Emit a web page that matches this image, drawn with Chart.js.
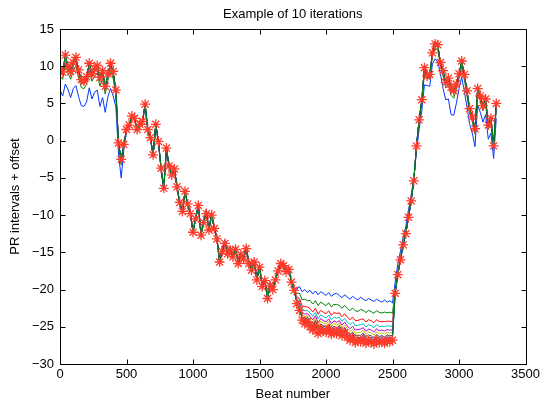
<!DOCTYPE html>
<html>
<head>
<meta charset="utf-8">
<script src="https://cdn.jsdelivr.net/npm/chart.js@4.4.1/dist/chart.umd.min.js"></script>
<style>
  html, body { margin: 0; padding: 0; background: #fff; }
</style>
</head>
<body>
<canvas id="chart" width="543" height="402"></canvas>
<script>
// beat numbers (x)
const beats = [
  0, 20, 40, 60, 80, 100, 120, 140, 160, 180,
  200, 220, 240, 260, 280, 300, 320, 340, 360, 380,
  400, 420, 440, 460, 480, 500, 520, 540, 560, 580,
  600, 620, 640, 660, 680, 700, 720, 740, 760, 780,
  800, 820, 840, 860, 880, 900, 920, 940, 960, 980,
  1000, 1020, 1040, 1060, 1080, 1100, 1120, 1140, 1160, 1180,
  1200, 1220, 1240, 1260, 1280, 1300, 1320, 1340, 1360, 1380,
  1400, 1420, 1440, 1460, 1480, 1500, 1520, 1540, 1560, 1580,
  1600, 1620, 1640, 1660, 1680, 1700, 1720, 1740, 1760, 1780,
  1800, 1820, 1840, 1860, 1880, 1900, 1920, 1940, 1960, 1980,
  2000, 2020, 2040, 2060, 2080, 2100, 2120, 2140, 2160, 2180,
  2200, 2220, 2240, 2260, 2280, 2300, 2320, 2340, 2360, 2380,
  2400, 2420, 2440, 2460, 2480, 2500, 2520, 2540, 2560, 2580,
  2600, 2620, 2640, 2660, 2680, 2700, 2720, 2740, 2760, 2780,
  2800, 2820, 2840, 2860, 2880, 2900, 2920, 2940, 2960, 2980,
  3000, 3020, 3040, 3060, 3080, 3100, 3120, 3140, 3160, 3180,
  3200, 3220, 3240, 3260, 3280
];

// final PR intervals + offset (red stars)
const finalPR = [
  9.5, 9.2, 11.5, 10.0, 9.3, 10.5, 11.2, 9.5, 8.2, 8.0,
  8.6, 10.4, 9.0, 9.6, 10.1, 8.5, 9.4, 7.3, 9.0, 10.4,
  9.3, 6.8, -0.3, -2.5, -0.5, 1.5, 2.1, 3.3, 3.0, 1.5,
  2.2, 2.6, 4.9, 1.5, 0.4, -1.9, 2.2, -0.1, -3.7, -6.4,
  -1.0, -3.4, -4.6, -3.8, -6.2, -8.3, -9.5, -6.8, -8.5, -9.8,
  -12.3, -10.5, -8.7, -12.7, -11.0, -9.8, -12.0, -10.0, -11.8, -13.2,
  -16.3, -14.9, -13.8, -15.2, -14.7, -15.6, -14.6, -16.5, -15.3, -15.9,
  -14.5, -16.5, -17.4, -16.3, -18.7, -17.0, -19.6, -18.8, -21.2, -19.5,
  -20.0, -18.7, -17.5, -16.5, -16.8, -17.6, -17.3, -19.0, -20.1, -21.9,
  -22.8, -24.1, -24.6, -24.3, -25.0, -25.4, -24.8, -25.9, -25.3, -25.6,
  -25.7, -25.3, -26.0, -25.6, -25.9, -25.5, -26.2, -25.8, -26.4, -26.8,
  -26.5, -27.1, -26.9, -27.0, -26.6, -27.2, -26.9, -27.0, -27.3, -26.8,
  -27.1, -26.9, -27.2, -26.8, -27.0, -26.8, -20.5, -18.0, -16.0, -14.0,
  -12.5, -10.3, -8.1, -5.4, -0.7, 2.8, 5.5, 9.8, 8.7, 8.9,
  11.8, 13.0, 12.9, 10.5, 9.4, 7.8, 8.4, 7.2, 6.7, 7.6,
  9.0, 10.7, 8.9, 6.7, 4.3, 3.2, 1.6, 7.0, 6.0, 4.7,
  5.6, 2.1, 3.0, -0.7, 5.0
];

// first iteration (blue line)
const firstIter = [
  6.8, 6.0, 7.6, 6.9, 5.8, 7.0, 7.4, 5.9, 4.7, 4.6,
  5.2, 7.1, 5.6, 6.5, 6.8, 4.6, 5.8, 3.8, 5.9, 7.0,
  6.0, 4.5, -1.8, -5.0, -1.2, 1.2, 2.0, 3.1, 2.9, 1.4,
  2.0, 2.5, 4.6, 1.2, 0.2, -2.2, 2.0, -0.4, -3.9, -6.6,
  -1.3, -3.6, -4.8, -4.0, -6.5, -8.5, -9.7, -7.0, -8.6, -9.9,
  -12.0, -10.2, -8.4, -12.3, -10.6, -9.2, -11.7, -9.6, -11.5, -13.0,
  -16.0, -14.3, -13.4, -14.9, -14.2, -15.3, -14.2, -16.1, -15.0, -15.6,
  -14.2, -16.2, -17.0, -16.0, -18.3, -16.7, -19.2, -18.5, -20.6, -19.0,
  -19.6, -18.4, -17.2, -16.3, -16.5, -17.3, -17.0, -18.6, -19.6, -20.0,
  -19.6, -20.3, -20.0, -20.4, -20.1, -20.6, -20.2, -20.7, -20.3, -20.5,
  -20.8, -20.4, -20.9, -20.6, -20.5, -20.8, -21.1, -20.7, -21.0, -21.3,
  -20.9, -21.2, -21.4, -21.0, -21.3, -21.5, -21.2, -21.4, -21.6, -21.3,
  -21.5, -21.7, -21.4, -21.7, -21.5, -21.8, -19.0, -16.5, -14.8, -13.0,
  -11.5, -9.3, -7.3, -5.0, -1.5, 1.5, 4.0, 7.5, 7.4, 7.3,
  10.3, 11.0, 10.6, 9.0, 7.0, 5.5, 5.6, 3.5, 3.4, 5.0,
  7.0, 8.5, 6.6, 4.5, 2.2, 1.0, -0.8, 4.8, 3.8, 2.5,
  3.5, 0.2, 1.0, -2.4, 3.0
];

// how far each iteration still sits from the final curve, as a share of the first one's gap
const plateauShare = [1, 0.72, 0.5, 0.38, 0.28, 0.21, 0.14, 0.09, 0.04];
const otherShare = [1, 0.3, 0.12, 0.07, 0.05, 0.03, 0.02, 0.01, 0.005];
const plateauStart = 1780;
const plateauEnd = 2500;

const iterColors = ['#0038ff', '#008000', '#ff0000', '#00bfbf', '#bf00bf', '#bfbf00', '#404040', '#0038ff', '#008000'];

Chart.defaults.font.family = "'Liberation Sans', Arial, Helvetica, sans-serif";
Chart.defaults.font.size = 13;
Chart.defaults.color = '#000';

const datasets = iterColors.map((col, k) => ({
  label: 'iteration ' + (k + 1),
  data: beats.map((b, i) => {
    const share = (b >= plateauStart && b <= plateauEnd) ? plateauShare[k] : otherShare[k];
    return { x: b, y: finalPR[i] + (firstIter[i] - finalPR[i]) * share };
  }),
  borderColor: col,
  borderWidth: 1,
  pointRadius: 0,
  fill: false,
  tension: 0,
  order: 20 - k
}));

datasets.push({
  label: 'final',
  data: beats.map((b, i) => ({ x: b, y: finalPR[i] })),
  showLine: false,
  pointStyle: 'star',
  pointRadius: 5,
  borderWidth: 1.3,
  borderColor: '#ff3a28',
  backgroundColor: '#ff3a28',
  order: 0
});

// box, inward ticks and title the matlab way
const frame = {
  id: 'frame',
  afterDraw(chart) {
    const { ctx, chartArea: a, scales } = chart;
    const L = Math.round(a.left) + 0.5, R = Math.round(a.right) + 0.5;
    const T = Math.round(a.top) + 0.5, B = Math.round(a.bottom) + 0.5;
    ctx.save();
    ctx.strokeStyle = '#000';
    ctx.lineWidth = 1;
    ctx.beginPath();
    ctx.rect(L, T, R - L, B - T);
    scales.x.ticks.forEach(t => {
      const px = Math.round(scales.x.getPixelForValue(t.value)) + 0.5;
      ctx.moveTo(px, B); ctx.lineTo(px, B - 5);
      ctx.moveTo(px, T); ctx.lineTo(px, T + 5);
    });
    scales.y.ticks.forEach(t => {
      const py = Math.round(scales.y.getPixelForValue(t.value)) + 0.5;
      ctx.moveTo(L, py); ctx.lineTo(L + 5, py);
      ctx.moveTo(R, py); ctx.lineTo(R - 5, py);
    });
    ctx.stroke();
    ctx.fillStyle = '#000';
    ctx.font = "13px 'Liberation Sans', Arial, sans-serif";
    ctx.textAlign = 'center';
    ctx.textBaseline = 'middle';
    ctx.fillText('Example of 10 iterations', (a.left + a.right) / 2, 14);
    ctx.restore();
  }
};

new Chart(document.getElementById('chart'), {
  type: 'line',
  data: { datasets },
  options: {
    responsive: false,
    animation: false,
    devicePixelRatio: 1,
    layout: { padding: { left: 0, right: 16, top: 29, bottom: 0 } },
    plugins: { legend: { display: false }, tooltip: { enabled: false }, title: { display: false } },
    scales: {
      x: {
        type: 'linear',
        min: 0, max: 3500,
        grid: { display: false, drawTicks: false },
        border: { display: false },
        ticks: { stepSize: 500, padding: 3, maxRotation: 0, callback: v => String(v) },
        title: { display: true, text: 'Beat number', padding: { top: 0, bottom: 0 } },
        afterFit: s => { s.height = 38; }
      },
      y: {
        min: -30, max: 15,
        grid: { display: false, drawTicks: false },
        border: { display: false },
        ticks: { stepSize: 5, padding: 6, callback: v => String(v).replace('-', '\u2212') },
        title: { display: true, text: 'PR intervals + offset', padding: { top: 8, bottom: 0 } },
        afterFit: s => { s.width = 60; }
      }
    }
  },
  plugins: [frame]
});
</script>
</body>
</html>
